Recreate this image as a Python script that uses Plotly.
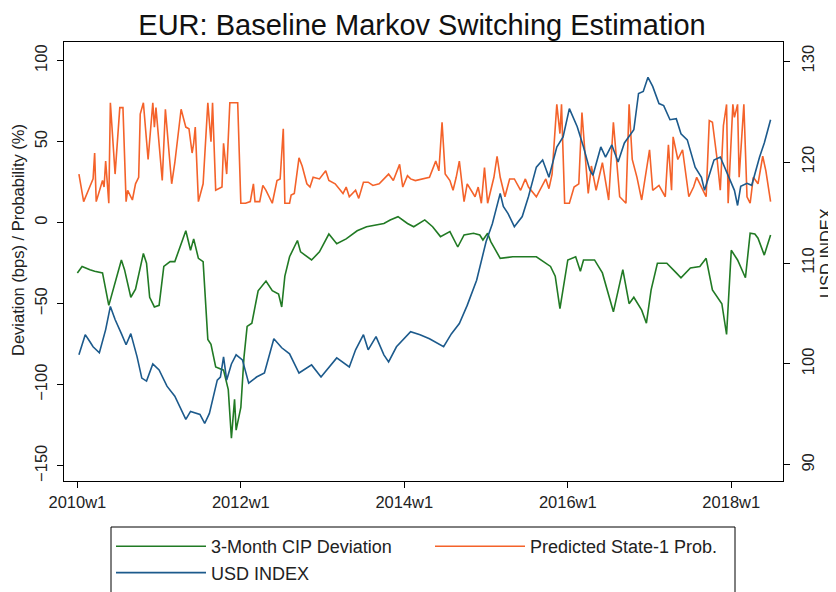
import plotly.graph_objects as go

# x values are week indices since 2010w1 (Stata weekly: 52 weeks per year)
cip_weeks = [0, 3, 8, 11, 16, 18, 20, 28, 30, 34, 37, 42, 44, 46, 49, 52, 55, 59, 62, 69, 72, 74, 77, 80,
             83, 85, 88, 93, 96, 98, 100, 101, 104, 106, 108, 111, 115, 120, 124, 128, 130, 132, 135, 140,
             142, 149, 154, 160, 165, 171, 178, 184, 190, 195, 199, 204, 210, 214, 221, 226, 231, 237, 242,
             246, 252, 256, 258, 261, 263, 269, 277, 292, 301, 304, 307, 310, 312, 317, 320, 322, 329, 334,
             341, 347, 351, 354, 359, 362, 365, 369, 375, 381, 384, 390, 396, 400, 404, 410, 413, 416, 420,
             425, 428, 431, 433, 437, 441]
cip_values = [-31, -27, -29, -30, -31, -40, -51, -23, -29, -46, -41, -19, -25, -46, -52, -51, -27, -24, -24,
              -5, -17, -10, -22, -24, -72, -75, -89, -91, -103, -133, -109, -128, -114, -83, -64, -62, -42,
              -36, -42, -44, -52, -33, -21, -11, -18, -23, -18, -7, -13, -10, -5, -2.5, -1.5, -0.5, 1.7, 3.7,
              -0.5, -2.5, 1.7, -2.5, -8.6, -5.5, -15, -7.6, -6.5, -7.6, -10.7, -6.5, -11.7, -22, -21, -21,
              -27, -33, -53, -35, -23, -21, -30, -23, -23, -31, -55, -29, -50, -46, -54, -62, -41.5, -25,
              -25, -31, -34, -28, -27, -22, -41.5, -50, -69, -17, -23, -34, -6.5, -7, -9.6, -20, -7.6]

prob_weeks = [1, 4, 7, 10, 11, 12, 16, 17, 18, 20, 21, 24, 27, 29, 31, 32, 35, 37, 39, 40, 42, 43, 45, 48,
              49, 50, 54, 56, 60, 62, 66, 69, 71, 73, 74, 75, 77, 80, 83, 85, 86, 88, 92, 93, 95, 97, 100,
              102, 104, 107, 110, 112, 113, 116, 118, 120, 124, 127, 129, 131, 132, 135, 136, 138, 141, 143,
              146, 148, 150, 154, 158, 160, 164, 169, 171, 173, 177, 179, 182, 185, 188, 192, 198, 201, 205,
              207, 210, 212, 215, 224, 228, 230, 232, 234, 237, 239, 241, 243, 246, 248, 253, 255, 257, 259,
              261, 265, 267, 269, 272, 275, 278, 282, 285, 287, 292, 298, 300, 302, 305, 307, 308, 309, 310,
              313, 316, 319, 321, 323, 325, 327, 330, 334, 338, 341, 343, 345, 349, 351, 353, 356, 359, 364,
              366, 370, 374, 376, 378, 379, 382, 385, 389, 392, 394, 400, 402, 404, 407, 409, 411, 413, 414,
              417, 418, 420, 421, 424, 426, 428, 430, 433, 436, 438, 441]
prob_values = [30, 13, 20, 27, 43, 13, 26, 22, 38, 12, 74, 30, 71, 71, 13, 20, 14, 24, 28, 67, 74, 61, 39,
               74, 59, 71, 26, 70, 24, 37, 70, 59, 58, 43, 49, 59, 13, 24, 74, 50, 74, 20, 22, 49, 30, 74,
               74, 74, 12, 12, 13, 24, 13, 13, 23, 20, 12, 26, 27, 58, 12, 12, 17, 18, 40, 35, 24, 22, 28,
               27, 32, 26, 24, 18, 22, 16, 20, 15, 25, 25, 23, 24, 30, 26, 36, 22, 29, 27, 26, 28, 38, 32,
               62, 30, 26, 20, 28, 38, 13, 24, 16, 22, 12, 34, 12, 28, 41, 28, 16, 27, 27, 20, 27, 22, 16,
               27, 21, 30, 73, 55, 73, 45, 12, 12, 22, 24, 68, 42, 18, 35, 20, 37, 14, 62, 39, 16, 12, 73,
               39, 28, 14, 45, 20, 23, 16, 48, 20, 53, 39, 45, 16, 22, 28, 16, 63, 62, 39, 20, 60, 73, 12,
               73, 65, 73, 28, 73, 16, 12, 28, 24, 41, 32, 13]

usd_weeks = [1, 5, 8, 10, 14, 18, 21, 24, 28, 31, 34, 38, 41, 44, 48, 52, 57, 62, 69, 72, 78, 81, 84, 89, 91,
             93, 95, 98, 101, 105, 109, 114, 119, 125, 130, 135, 141, 149, 155, 165, 173, 177, 182, 185, 190,
             195, 198, 203, 212, 218, 224, 233, 238, 243, 248, 254, 260, 264, 269, 271, 274, 278, 283, 287,
             292, 296, 300, 305, 309, 313, 318, 322, 326, 328, 333, 336, 340, 344, 348, 354, 357, 360, 363,
             366, 370, 373, 377, 381, 384, 388, 393, 397, 399, 405, 409, 412, 418, 420, 422, 426, 429, 434,
             437, 441]
usd_values = [100.9, 102.9, 102.2, 101.7, 101.1, 103.4, 105.7, 104.4, 103, 101.9, 103, 100.7, 98.6, 98.3,
              100, 99.4, 97.8, 96.8, 94.5, 95.3, 95, 94.1, 95.1, 98.4, 98.7, 100.7, 98.4, 100, 100.9, 100.4,
              98.1, 98.7, 99.1, 102.5, 101.6, 101, 99.1, 99.9, 98.7, 100.6, 99.7, 101.4, 102.9, 101.4, 102.7,
              100.9, 100.2, 101.7, 103.2, 102.9, 102.5, 101.7, 103, 104, 105.8, 108.3, 112.1, 113.9, 116.9,
              115.6, 114.9, 113.6, 114.6, 116.6, 119.5, 120.2, 118.5, 121.5, 122.5, 125.3, 123.5, 121.5,
              119.2, 118.7, 121.5, 120.5, 121.7, 120, 121.9, 123.2, 126.8, 127, 128.4, 127.5, 125.8, 125.6,
              124.2, 124.3, 122.8, 122.2, 119.5, 118.5, 117.2, 120.2, 120.5, 119.4, 117.2, 115.7, 117.6,
              117.9, 117.7, 120.5, 121.9, 124.2]

tick_weeks = [0, 104, 208, 312, 416]
tick_labels = ["2010w1", "2012w1", "2014w1", "2016w1", "2018w1"]
left_ticks = [-150, -100, -50, 0, 50, 100]
right_ticks = [90, 100, 110, 120, 130]

FONT = "Liberation Sans, Arial, Helvetica, sans-serif"
# page body has an 8px margin; figure is sized to fit the 836x592 window
W, H = 828, 584
ML, MR, MT, MB = 56, 53, 34, 111
PW, PH = W - ML - MR, H - MT - MB


def px(xf):
    return (xf - ML) / PW


def py(yf):
    return (MT + PH - yf) / PH


fig = go.Figure()
fig.add_trace(go.Scatter(x=cip_weeks, y=cip_values, mode="lines", name="3-Month CIP Deviation",
                         line=dict(color="#217a24", width=1.6)))
fig.add_trace(go.Scatter(x=prob_weeks, y=prob_values, mode="lines", name="Predicted State-1 Prob.",
                         line=dict(color="#f4622a", width=1.6)))
fig.add_trace(go.Scatter(x=usd_weeks, y=usd_values, mode="lines", name="USD INDEX", yaxis="y2",
                         line=dict(color="#1c5a8c", width=1.6)))

axis_common = dict(showgrid=False, zeroline=False, showline=True, linecolor="black", linewidth=1,
                   ticks="outside", ticklen=6, tickcolor="black", automargin=False,
                   tickfont=dict(size=16.5, color="#222"))

fig.update_layout(
    width=W, height=H,
    margin=dict(l=ML, r=MR, t=MT, b=MB, autoexpand=False),
    paper_bgcolor="white", plot_bgcolor="white",
    font=dict(family=FONT, color="#222"),
    title=dict(text="EUR: Baseline Markov Switching Estimation", x=0.5, xanchor="center",
               y=1 - 17 / H, yanchor="middle", font=dict(size=29, color="#111")),
    xaxis=dict(range=[-8.5, 448.9], tickvals=tick_weeks, ticktext=tick_labels, mirror=True,
               ticklabelstandoff=0, **axis_common),
    yaxis=dict(range=[-159.4, 111.5], tickvals=left_ticks, tickangle=-90, ticklabelstandoff=3,
               **axis_common),
    yaxis2=dict(range=[88.4, 131.9], tickvals=right_ticks, tickangle=-90, overlaying="y", side="right",
                ticklabelstandoff=4, **axis_common),
    legend=dict(orientation="h", x=px(103), xanchor="left", y=py(520), yanchor="top",
                borderwidth=0, bgcolor="rgba(0,0,0,0)", font=dict(size=18, color="#222"),
                entrywidth=214, entrywidthmode="pixels", itemwidth=90),
    showlegend=True,
    shapes=[dict(type="rect", xref="paper", yref="paper", x0=px(103), x1=px(727), y0=py(519), y1=py(640),
                 line=dict(color="black", width=1), fillcolor="rgba(0,0,0,0)", layer="below")],
    annotations=[
        dict(text="Deviation (bps) / Probability (%)", xref="paper", yref="paper",
             x=px(10), y=py(232), textangle=-90, showarrow=False,
             xanchor="center", yanchor="middle", font=dict(size=16.5, color="#222")),
        dict(text="USD INDEX", xref="paper", yref="paper",
             x=px(818), y=py(245), textangle=-90, showarrow=False,
             xanchor="center", yanchor="middle", font=dict(size=16.5, color="#222")),
    ],
)

fig.write_html("out.html")
